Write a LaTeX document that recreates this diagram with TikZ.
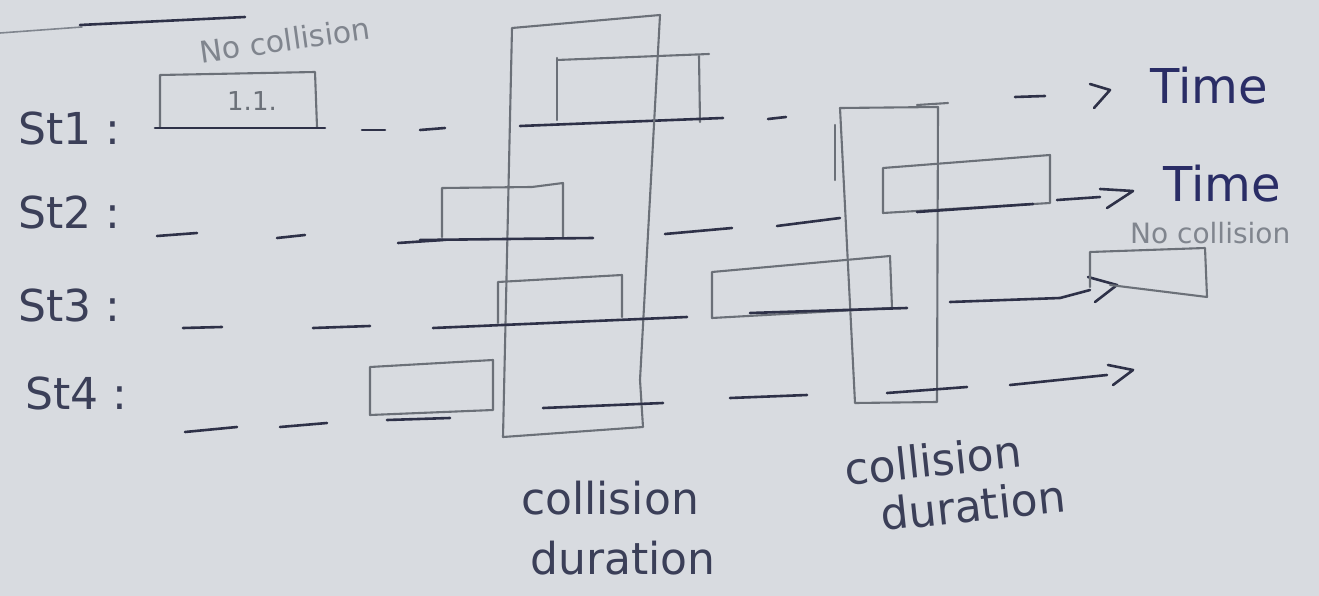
\documentclass[tikz,border=0pt]{standalone}
\usepackage{fontspec}
\setmainfont{DejaVu Sans}
\definecolor{paperc}{HTML}{D8DBE0}
\definecolor{pencilc}{HTML}{6B7078}
\definecolor{inkc}{HTML}{2E3148}
\definecolor{labc}{HTML}{3B3F58}
\definecolor{timec}{HTML}{2A2D66}
\definecolor{softc}{HTML}{80858E}
\begin{document}
\begin{tikzpicture}[x=1pt,y=-1pt,
  pencil/.style={draw=pencilc, line width=2.1pt, line join=round, line cap=round},
  ink/.style={draw=inkc, line width=2.6pt, line cap=round, line join=round},
  rowlbl/.style={text=labc, font=\fontsize{44}{44}\selectfont, inner sep=0pt, anchor=west},
  timelbl/.style={text=timec, font=\fontsize{48}{48}\selectfont, inner sep=0pt, anchor=west},
  durlbl/.style={text=labc, font=\fontsize{44}{44}\selectfont, inner sep=0pt},
  softlbl/.style={text=softc, inner sep=0pt}]
\fill[paperc] (0,0) rectangle (1319,596);
\useasboundingbox (0,0) rectangle (1319,596);

% top-left remnants
\draw[softc, line width=1.6pt, line cap=round] (0,33) -- (82,27);
\draw[ink] (80,25) -- (245,17);

% row labels
\node[rowlbl] (st1) at (18,128) {St1 :};
\node[rowlbl] (st2) at (18,212) {St2 :};
\node[rowlbl] (st3) at (18,305) {St3 :};
\node[rowlbl] (st4) at (25,393) {St4 :};

% ---------------- Row 1 ----------------
\draw[pencil] (160,127) -- (160,75) -- (315,72) -- (317,127);
\draw[ink] (155,128) -- (325,128);
\node[text=pencilc, font=\fontsize{26}{26}\selectfont, inner sep=0pt] (t11) at (252,101) {1.1.};
\node[softlbl, font=\fontsize{30}{30}\selectfont, rotate=8] (nc1) at (285,40) {No collision};
\draw[ink] (362,130) -- (385,130);
\draw[ink] (420,130) -- (445,128);
\draw[pencil] (557,120) -- (557,58);
\draw[pencil] (557,60) -- (709,54);
\draw[pencil] (699,56) -- (700,122);
\draw[ink] (520,126) -- (723,118);
\draw[ink] (768,119) -- (786,117);
\draw[ink] (1015,97) -- (1045,96);
\draw[ink] (1090,84) -- (1110,90) -- (1094,108);
\node[timelbl] (time1) at (1150,86) {Time};

% collision duration boxes
\draw[pencil] (512,28) -- (660,15) -- (640,380) -- (643,427) -- (503,437) -- cycle;
\draw[pencil] (840,108) -- (938,107) -- (937,402) -- (855,403) -- cycle;
\draw[pencil] (835,125) -- (835,180);
\draw[pencil] (917,105) -- (948,103);

% ---------------- Row 2 ----------------
\draw[ink] (157,236) -- (197,233);
\draw[ink] (277,238) -- (305,235);
\draw[ink] (398,243) -- (443,240);
\draw[pencil] (442,237) -- (442,188) -- (532,187) -- (563,183) -- (563,237);
\draw[ink] (420,240) -- (593,238);
\draw[ink] (665,234) -- (732,228);
\draw[ink] (777,226) -- (840,218);
\draw[pencil] (883,213) -- (883,168) -- (1050,155) -- (1050,203) -- cycle;
\draw[ink] (917,212) -- (1033,204);
\draw[ink] (1057,200) -- (1100,197);
\draw[ink] (1100,189) -- (1133,191) -- (1107,208);
\node[timelbl] (time2) at (1163,184) {Time};

% ---------------- Row 3 ----------------
\draw[ink] (183,328) -- (222,327);
\draw[ink] (313,328) -- (370,326);
\draw[ink] (433,328) -- (687,317);
\draw[pencil] (498,323) -- (498,282) -- (622,275) -- (622,317);
\draw[pencil] (712,272) -- (890,256) -- (892,308) -- (712,318) -- cycle;
\draw[ink] (750,313) -- (907,308);
\draw[ink] (950,302) -- (1060,298) -- (1090,290);
\draw[ink] (1088,277) -- (1117,285) -- (1095,302);
\draw[pencil] (1090,287) -- (1090,252) -- (1205,248) -- (1207,297) -- (1110,285);
\node[softlbl, font=\fontsize{28}{28}\selectfont, anchor=west] (nc2) at (1130,233) {No collision};

% ---------------- Row 4 ----------------
\draw[ink] (185,432) -- (237,427);
\draw[ink] (280,427) -- (327,423);
\draw[pencil] (370,415) -- (370,367) -- (493,360) -- (493,410) -- cycle;
\draw[ink] (387,420) -- (450,418);
\draw[ink] (543,408) -- (663,403);
\draw[ink] (730,398) -- (807,395);
\draw[ink] (887,393) -- (967,387);
\draw[ink] (1010,385) -- (1107,375);
\draw[ink] (1108,365) -- (1133,370) -- (1113,385);

% duration labels
\node[durlbl] (cd1a) at (610,498) {collision};
\node[durlbl] (cd1b) at (623,558) {duration};
\node[durlbl, rotate=6] (cd2a) at (933,460) {collision};
\node[durlbl, rotate=6] (cd2b) at (973,505) {duration};
\end{tikzpicture}
\end{document}
